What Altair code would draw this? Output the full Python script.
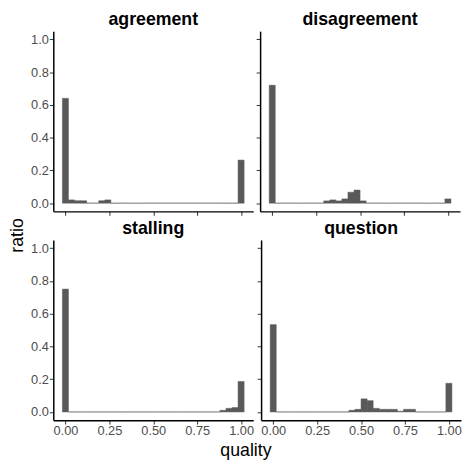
import altair as alt
import pandas as pd

# ratio per histogram bin (30 bins, bin centres at k/29, k = 0..29)
bins = list(range(30))

agreement = [0.64, 0.02, 0.015, 0.015, 0, 0, 0.015, 0.02, 0, 0,
             0, 0, 0, 0, 0, 0, 0, 0, 0, 0,
             0, 0, 0, 0, 0, 0, 0, 0, 0, 0.263]
disagreement = [0.72, 0, 0, 0, 0, 0, 0, 0, 0, 0.014,
                0.02, 0.014, 0.026, 0.067, 0.08, 0.014, 0, 0, 0, 0,
                0, 0, 0, 0, 0, 0, 0, 0, 0, 0.026]
stalling = [0.75, 0, 0, 0, 0, 0, 0, 0, 0, 0,
            0, 0, 0, 0, 0, 0, 0, 0, 0, 0,
            0, 0, 0, 0, 0, 0, 0.01, 0.022, 0.027, 0.186]
question = [0.533, 0, 0, 0, 0, 0, 0, 0, 0, 0,
            0, 0, 0, 0.01, 0.016, 0.08, 0.069, 0.022, 0.016, 0.016,
            0.016, 0.004, 0.016, 0.016, 0, 0, 0, 0, 0, 0.175]

x_ticks = [0, 0.25, 0.5, 0.75, 1.0]
y_ticks = [0, 0.2, 0.4, 0.6, 0.8, 1.0]

FONT = "Liberation Sans"
BAR = "#595959"


def panel(name, vals, show_x, show_y):
    df = pd.DataFrame({"bin": bins, "ratio": vals})
    return (
        alt.Chart(df)
        .transform_calculate(
            x0="datum.bin / 29 - 1 / 58",
            x1="datum.bin / 29 + 1 / 58",
            base="0",
        )
        .mark_bar(color=BAR, stroke=BAR, strokeWidth=0.5)
        .encode(
            x=alt.X(
                "x0:Q",
                scale=alt.Scale(domain=[-0.069, 1.069], nice=False, zero=False),
                axis=alt.Axis(values=x_ticks, format=".2f", labels=show_x, title=None),
            ),
            x2="x1:Q",
            y=alt.Y(
                "ratio:Q",
                scale=alt.Scale(domain=[-0.05, 1.05], nice=False, zero=False),
                axis=alt.Axis(values=y_ticks, format=".1f", labels=show_y, title=None),
            ),
            y2="base:Q",
        )
        .properties(
            width=203,
            height=183,
            title=alt.TitleParams(
                name, fontSize=18, fontWeight="bold", font=FONT, color="black",
                offset=2, anchor="middle",
            ),
        )
    )


top = alt.hconcat(
    panel("agreement", agreement, False, True),
    panel("disagreement", disagreement, False, False),
    spacing=2,
)
bottom = alt.hconcat(
    panel("stalling", stalling, True, True),
    panel("question", question, True, False),
    spacing=2,
).properties(
    title=alt.TitleParams("quality", orient="bottom", fontSize=18, fontWeight="normal",
                          font=FONT, color="black", anchor="middle", offset=4)
)

chart = (
    alt.vconcat(top, bottom, spacing=4)
    .properties(
        title=alt.TitleParams("ratio", orient="left", fontSize=18, fontWeight="normal",
                              font=FONT, color="black", anchor="middle", offset=4)
    )
    .configure(padding=0)
    .configure_view(stroke=None)
    .configure_axis(
        grid=False,
        domainColor="black",
        domainWidth=1.5,
        tickColor="#333333",
        tickSize=4,
        tickWidth=1,
        labelColor="#4D4D4D",
        labelFontSize=13,
        labelFont=FONT,
        labelPadding=1,
    )
)

chart.save("out.html", embed_options={"renderer": "svg", "actions": False})
